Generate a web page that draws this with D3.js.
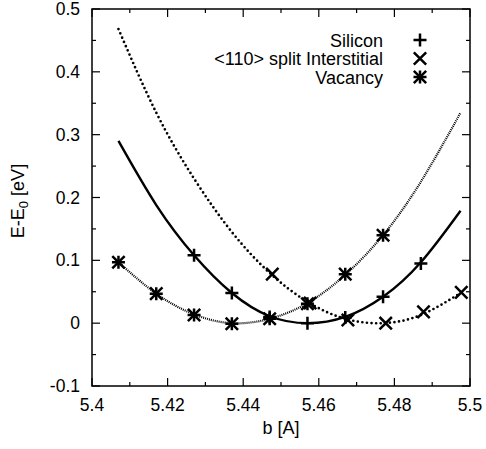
<!DOCTYPE html>
<html><head><meta charset="utf-8">
<script src="https://cdn.jsdelivr.net/npm/d3@7"></script>
<style>body{margin:0;background:#fff}svg{display:block}text{font-family:"Liberation Sans",Arial,sans-serif;fill:#000}</style>
</head><body><svg id="c" width="486" height="449"></svg>
<script>
// ---- data ----
const seriesNames = ["Silicon", "<110> split Interstitial", "Vacancy"];
const siliconX = [5.427, 5.437, 5.447, 5.457, 5.467, 5.477, 5.487];
const siliconY = [0.108, 0.048, 0.010, 0.000, 0.009, 0.042, 0.095];
const interX = [5.4477, 5.4577, 5.4677, 5.4777, 5.4877, 5.4977];
const interY = [0.078, 0.032, 0.005, 0.000, 0.018, 0.049];
const vacX = [5.407, 5.417, 5.427, 5.437, 5.447, 5.457, 5.467, 5.477];
const vacY = [0.097, 0.047, 0.013, -0.001, 0.007, 0.031, 0.078, 0.140];
// fitted curves
const fitX = [5.407, 5.417, 5.427, 5.437, 5.447, 5.457, 5.467, 5.477, 5.487, 5.4975];
const siliconFit = [0.290, 0.188, 0.108, 0.048, 0.011, 0.000, 0.010, 0.042, 0.097, 0.179];
const interFit = [0.468, 0.335, 0.230, 0.145, 0.080, 0.034, 0.007, 0.000, 0.013, 0.048];
const vacFit = [0.097, 0.047, 0.014, 0.000, 0.007, 0.032, 0.077, 0.140, 0.225, 0.335];
const xTicks = [5.4, 5.42, 5.44, 5.46, 5.48, 5.5];
const yTicks = [-0.1, 0, 0.1, 0.2, 0.3, 0.4, 0.5];

const svg = d3.select("#c");
const L = 92, R = 470, T = 9, B = 386;
const x = d3.scaleLinear().domain([5.4, 5.5]).range([L, R]);
const y = d3.scaleLinear().domain([-0.1, 0.5]).range([B, T]);
const FS = 17.5, FL = 18;

// minor/major ticks inward on all sides
const xMinor = d3.range(5.41, 5.5, 0.02);
const yMinor = d3.range(-0.05, 0.5, 0.1);
const g = svg.append("g").attr("stroke", "#000").attr("stroke-width", 1.2);
xTicks.forEach(v => { g.append("line").attr("x1", x(v)).attr("x2", x(v)).attr("y1", B).attr("y2", B - 8);
  g.append("line").attr("x1", x(v)).attr("x2", x(v)).attr("y1", T).attr("y2", T + 8); });
xMinor.forEach(v => { g.append("line").attr("x1", x(v)).attr("x2", x(v)).attr("y1", B).attr("y2", B - 4);
  g.append("line").attr("x1", x(v)).attr("x2", x(v)).attr("y1", T).attr("y2", T + 4); });
yTicks.forEach(v => { g.append("line").attr("x1", L).attr("x2", L + 8).attr("y1", y(v)).attr("y2", y(v));
  g.append("line").attr("x1", R).attr("x2", R - 8).attr("y1", y(v)).attr("y2", y(v)); });
yMinor.forEach(v => { g.append("line").attr("x1", L).attr("x2", L + 4).attr("y1", y(v)).attr("y2", y(v));
  g.append("line").attr("x1", R).attr("x2", R - 4).attr("y1", y(v)).attr("y2", y(v)); });
svg.append("rect").attr("x", L).attr("y", T).attr("width", R - L).attr("height", B - T)
  .attr("fill", "none").attr("stroke", "#000").attr("stroke-width", 1.5);

// tick labels
const fmt = v => (Math.round(v * 100) / 100).toString();
svg.append("g").selectAll("text").data(xTicks).join("text")
  .attr("x", d => x(d)).attr("y", B + 24.5).attr("text-anchor", "middle").attr("font-size", FS).text(fmt);
svg.append("g").selectAll("text").data(yTicks).join("text")
  .attr("x", L - 12).attr("y", d => y(d) + 6).attr("text-anchor", "end").attr("font-size", FS).text(fmt);

// axis titles
svg.append("text").attr("x", (L + R) / 2).attr("y", 434).attr("text-anchor", "middle").attr("font-size", FL).text("b [A]");
const yt = svg.append("text").attr("transform", "translate(24," + 201 + ") rotate(-90)")
  .attr("text-anchor", "middle").attr("font-size", FL);
yt.append("tspan").text("E-E");
yt.append("tspan").attr("font-size", 13).attr("dy", 4).text("0");
yt.append("tspan").attr("dy", -4).text(" [eV]");

// curves
const line = d3.line().x(d => x(d[0])).y(d => y(d[1])).curve(d3.curveNatural);
svg.append("path").datum(fitX.map((v, i) => [v, vacFit[i]])).attr("d", line)
  .attr("fill", "none").attr("stroke", "#000").attr("stroke-width", 2.2).attr("stroke-dasharray", "1,1");
svg.append("path").datum(fitX.map((v, i) => [v, interFit[i]])).attr("d", line)
  .attr("fill", "none").attr("stroke", "#000").attr("stroke-width", 2.7).attr("stroke-linecap", "round")
  .attr("stroke-dasharray", "0,4.6");
svg.append("path").datum(fitX.map((v, i) => [v, siliconFit[i]])).attr("d", line)
  .attr("fill", "none").attr("stroke", "#000").attr("stroke-width", 2.4);

// markers
const S = 6.5;
function plus(sel) { sel.append("path").attr("d", `M${-S},0H${S}M0,${-S}V${S}`); }
function cross(sel) { const s = S * 0.95; sel.append("path").attr("d", `M${-s},${-s}L${s},${s}M${-s},${s}L${s},${-s}`); }
function star(sel) { plus(sel); cross(sel); }
const markerFns = [plus, cross, star];
function drawPts(xs, ys, fn) {
  xs.forEach((v, i) => {
    const m = svg.append("g").attr("transform", `translate(${x(v)},${y(ys[i])})`)
      .attr("stroke", "#000").attr("stroke-width", 2.5).attr("fill", "none");
    fn(m);
  });
}
drawPts(siliconX, siliconY, plus);
drawPts(interX, interY, cross);
drawPts(vacX, vacY, star);

// legend
const legY = [40, 58.5, 77];
seriesNames.forEach((n, i) => {
  svg.append("text").attr("x", 383).attr("y", legY[i] + 6.5).attr("text-anchor", "end").attr("font-size", FL).text(n);
  const m = svg.append("g").attr("transform", `translate(420,${legY[i]})`)
    .attr("stroke", "#000").attr("stroke-width", 2.5).attr("fill", "none");
  markerFns[i](m);
});
</script></body></html>
